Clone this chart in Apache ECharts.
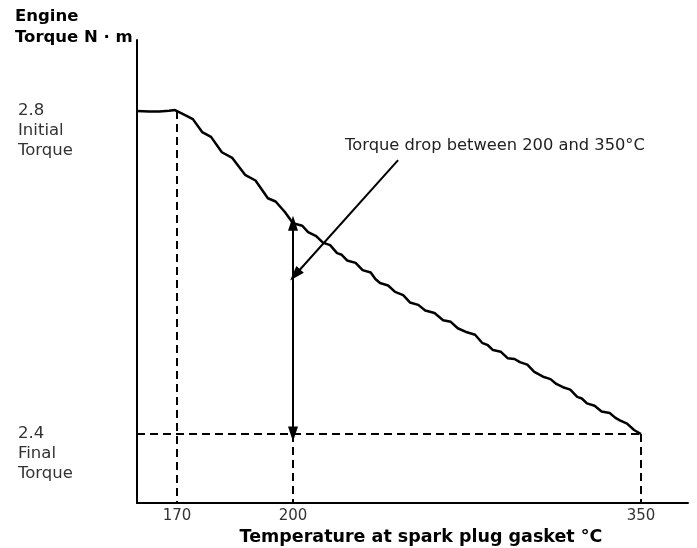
<!DOCTYPE html>
<html><head><meta charset="utf-8">
<script src="https://cdn.jsdelivr.net/npm/echarts@6/dist/echarts.min.js"></script>
<style>html,body{margin:0;padding:0;background:#fff}#c{width:697px;height:548px}</style>
</head><body><div id="c"></div>
<script>
// ---- data (hand-drawn wiggles estimated) ----
const temperature = [160, 163, 165.6, 168, 169.5, 170, 172.1, 174.1, 176.5, 178.8, 181.6, 184.3, 187.6, 190.3, 193.5, 195.5, 197.9, 200,
  204, 206.5, 210, 212.9, 216, 219, 221, 223.3, 227, 230, 233.5, 235.5, 237.5, 241, 244, 247.5, 250.4, 254, 257, 261, 264.7, 268, 271, 275,
  278.5, 281.5, 284, 286.2, 289.5, 292.5, 295.5, 297.8, 301, 304, 307.8, 311, 313.5, 316.4, 319.5, 322.5, 324.5, 326.7, 330, 333, 336.5, 339, 340.9, 344, 347, 350];
const torque = [2.800, 2.7996, 2.7994, 2.8004, 2.8012, 2.8006, 2.795, 2.790, 2.774, 2.768, 2.749, 2.742, 2.721, 2.714, 2.692, 2.688, 2.675, 2.661,
  2.658, 2.650, 2.645, 2.637, 2.634, 2.624, 2.622, 2.615, 2.612, 2.603, 2.600, 2.592, 2.587, 2.584, 2.576, 2.572, 2.563, 2.560, 2.553, 2.550, 2.541, 2.539, 2.531, 2.526,
  2.523, 2.513, 2.510, 2.504, 2.502, 2.494, 2.493, 2.489, 2.486, 2.477, 2.471, 2.468, 2.462, 2.458, 2.455, 2.446, 2.444, 2.438, 2.435, 2.428, 2.426, 2.420, 2.417, 2.413, 2.405, 2.400];
const xTickTemps = [170, 200, 350];
const yTickValues = [2.8, 2.4];
const yTickNames = ['2.8\nInitial\nTorque', '2.4\nFinal\nTorque'];
const initialTorque = 2.8, finalTorque = 2.4;
const dropFrom = 200, dropTo = 350, kneeTemp = 170;
const leaderStart = [245.3, 2.7393], leaderEnd = [200.9, 2.597];
const annotation = 'Torque drop between 200 and 350°C';
const yTitle = 'Engine\nTorque N · m';
const xTitle = 'Temperature at spark plug gasket °C';

// schematic (non-linear) temperature axis: piecewise-linear warp
const KT = [160, 170, 200, 350];
const KU = [0, 40, 156, 504];
const X_MAX = 551;
function warp(t) {
  let i = 0;
  if (t <= KT[1]) i = 0; else if (t <= KT[2]) i = 1; else i = 2;
  return KU[i] + (t - KT[i]) * (KU[i + 1] - KU[i]) / (KT[i + 1] - KT[i]);
}
const Y_MIN = 2.3146, Y_MAX = 2.888;

const chart = echarts.init(document.getElementById('c'));
const FONT = 'DejaVu Sans';
const dash = { color: '#000', width: 2, type: [8, 5] };
const solid = { color: '#000', width: 2, type: 'solid' };
const head = [10, 15];

chart.setOption({
  animation: false,
  backgroundColor: '#fff',
  grid: { left: 137, right: 9, top: 40, bottom: 45 },
  xAxis: {
    type: 'value', min: 0, max: X_MAX,
    axisLine: { show: true, onZero: false, lineStyle: { color: '#000', width: 2 } },
    axisTick: { show: false }, splitLine: { show: false },
    axisLabel: {
      customValues: xTickTemps.map(warp),
      formatter: v => { const t = xTickTemps.find(tt => Math.abs(warp(tt) - v) < 0.01); return t === undefined ? '' : String(t); },
      color: '#333', fontSize: 15, fontFamily: FONT, margin: 6
    }
  },
  yAxis: {
    type: 'value', min: Y_MIN, max: Y_MAX,
    axisLine: { show: true, onZero: false, lineStyle: { color: '#000', width: 2 } },
    axisTick: { show: false }, splitLine: { show: false }, axisLabel: { show: false }
  },
  series: [{
    type: 'line',
    data: temperature.map((t, i) => [warp(t), torque[i]]),
    symbol: 'none',
    lineStyle: { color: '#000', width: 2.5 },
    z: 5,
    markLine: {
      silent: true, animation: false, label: { show: false },
      symbol: 'none',
      data: [
        [{ coord: [warp(kneeTemp), initialTorque], lineStyle: dash }, { coord: [warp(kneeTemp), Y_MIN] }],
        [{ coord: [warp(dropFrom), finalTorque], lineStyle: dash }, { coord: [warp(dropFrom), Y_MIN] }],
        [{ coord: [warp(dropTo), finalTorque], lineStyle: dash }, { coord: [warp(dropTo), Y_MIN] }],
        [{ coord: [0, finalTorque], lineStyle: dash }, { coord: [warp(dropTo), finalTorque] }],
        [{ coord: [warp(dropFrom), torque[temperature.indexOf(dropFrom)]], lineStyle: solid, symbol: 'triangle', symbolSize: head },
         { coord: [warp(dropFrom), finalTorque], symbol: 'triangle', symbolSize: head }],
        [{ coord: [warp(leaderStart[0]), leaderStart[1]], lineStyle: solid, symbol: 'none' },
         { coord: [warp(leaderEnd[0]), leaderEnd[1]], symbol: 'triangle', symbolSize: head }]
      ]
    }
  }]
});

const px = (t, v) => chart.convertToPixel({ gridIndex: 0 }, [warp(t), v]);
const g = [];
yTickValues.forEach((v, i) => {
  const p = px(160, v);
  g.push({ type: 'text', x: 18, y: p[1] - 10, style: { text: yTickNames[i], font: '16.5px ' + FONT, lineHeight: 20, fill: '#333', verticalAlign: 'top', align: 'left' } });
});
g.push({ type: 'text', x: 15, y: 6, style: { text: yTitle, font: 'bold 16.5px ' + FONT, lineHeight: 21, fill: '#000', verticalAlign: 'top', align: 'left' } });
g.push({ type: 'text', x: 421, y: 537, style: { text: xTitle, font: 'bold 17.5px ' + FONT, fill: '#000', verticalAlign: 'middle', align: 'center' } });
g.push({ type: 'text', x: 495, y: 146, style: { text: annotation, font: '16.3px ' + FONT, fill: '#222', verticalAlign: 'middle', align: 'center' } });
chart.setOption({ graphic: g });
</script></body></html>
